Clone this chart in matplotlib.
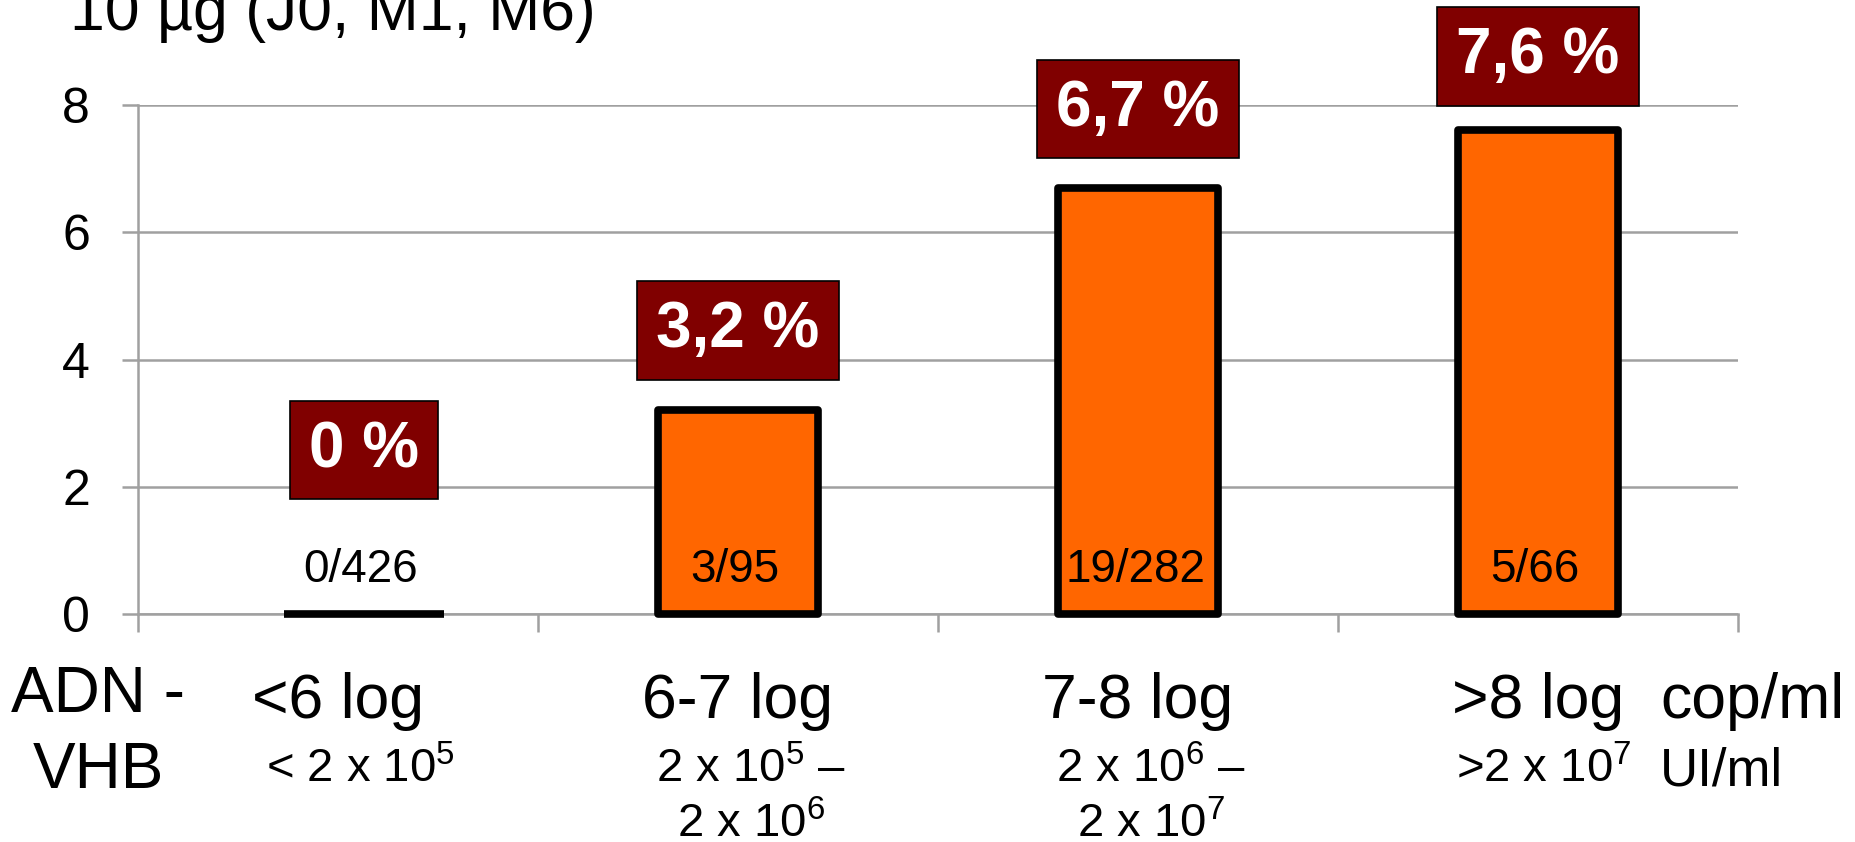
import matplotlib
matplotlib.use("Agg")
import matplotlib.pyplot as plt
import numpy as np

# --- data -------------------------------------------------------------
categories = ["<6 log", "6-7 log", "7-8 log", ">8 log"]
ui_ranges = [
    ["< 2 x 10$^{5}$"],
    ["2 x 10$^{5}$ \u2013", "2 x 10$^{6}$"],
    ["2 x 10$^{6}$ \u2013", "2 x 10$^{7}$"],
    [">2 x 10$^{7}$"],
]
positives = [0, 3, 19, 5]
totals = [426, 95, 282, 66]
rates = [0.0, 3.2, 6.7, 7.6]          # % per viral-load class
yticks = [0, 2, 4, 6, 8]
title = "10 \u00b5g (J0, M1, M6)"

# --- style ------------------------------------------------------------
FONT = "Liberation Sans"
ORANGE = "#FF6600"
MAROON = "#800000"
GRID = "#A0A0A0"
plt.rcParams["font.family"] = [FONT, "DejaVu Sans"]
plt.rcParams["mathtext.fontset"] = "custom"
plt.rcParams["mathtext.rm"] = FONT
plt.rcParams["mathtext.it"] = FONT + ":italic"
plt.rcParams["mathtext.bf"] = FONT + ":bold"

W, H = 1856, 842
fig = plt.figure(figsize=(W / 100, H / 100), dpi=100)


def fx(px):
    return px / W


def fy(py):
    return 1 - py / H


ax = fig.add_axes([fx(138), fy(614), fx(1738) - fx(138), fy(105) - fy(614)])

x = np.arange(len(categories))
bar_shift = [0.065, 0, 0, 0]          # the empty class marker sits a little right
bar_x = x + np.array(bar_shift)

bars = ax.bar(bar_x, rates, width=0.4, color=ORANGE, edgecolor="black",
              linewidth=5.5, zorder=3, clip_on=False)
for b in bars:
    b.set_joinstyle("round")

ax.set_xlim(-0.5, len(categories) - 0.5)
ax.set_ylim(0, 8)
ax.set_yticks(yticks)
ax.set_yticklabels([str(t) for t in yticks])
ax.set_xticks(np.arange(len(categories) + 1) - 0.5)
ax.set_xticklabels([])
ax.yaxis.grid(True, color=GRID, linewidth=1.8, zorder=0)
ax.set_axisbelow(True)
for s in ("top", "right"):
    ax.spines[s].set_visible(False)
for s in ("left", "bottom"):
    ax.spines[s].set_color(GRID)
    ax.spines[s].set_linewidth(1.8)
ax.tick_params(axis="y", length=11.5, width=1.8, color=GRID,
               labelsize=36, pad=23)
ax.tick_params(axis="x", length=13, width=1.8, color=GRID)

# percentage boxes above the bars
box_offset = [164, 80, 79, 74]        # pixels from bar top to box centre
for xi, v, off in zip(bar_x, rates, box_offset):
    label = "0 %" if v == 0 else f"{v:.1f} %".replace(".", ",")
    ax.annotate(label, xy=(xi, v), xytext=(0, off), textcoords="offset pixels",
                ha="center", va="center", color="white", fontsize=46,
                fontweight="bold", annotation_clip=False, zorder=5,
                bbox=dict(boxstyle="square,pad=0.3", facecolor=MAROON,
                          edgecolor="black", linewidth=1.2))

# counts inside the bars
for xi, p, n in zip(bar_x, positives, totals):
    ax.annotate(f"{p}/{n}", xy=(xi, 0), xytext=(-3, 44),
                textcoords="offset pixels", ha="center", va="center",
                fontsize=33, zorder=6)

# category labels under the axis
range_shift = [22, 13, 13, 6]
for xi, cat, rng, sh in zip(x, categories, ui_ranges, range_shift):
    ax.annotate(cat, xy=(xi, 0), xytext=(0, -104), textcoords="offset pixels",
                ha="center", va="baseline", fontsize=45, annotation_clip=False)
    for k, line in enumerate(rng):
        ax.annotate(line, xy=(xi, 0), xytext=(sh, -168 - 55 * k),
                    textcoords="offset pixels", ha="center", va="baseline",
                    fontsize=34, annotation_clip=False)

fig.text(fx(98), fy(712), "ADN -", ha="center", va="baseline", fontsize=46)
fig.text(fx(98), fy(788), "VHB", ha="center", va="baseline", fontsize=46)
fig.text(fx(1660), fy(718), "cop/ml", ha="left", va="baseline", fontsize=45)
fig.text(fx(1660), fy(786), "UI/ml", ha="left", va="baseline", fontsize=38)
fig.text(fx(70), fy(30), title, ha="left", va="baseline", fontsize=45)

fig.savefig("out.png", dpi=100)
